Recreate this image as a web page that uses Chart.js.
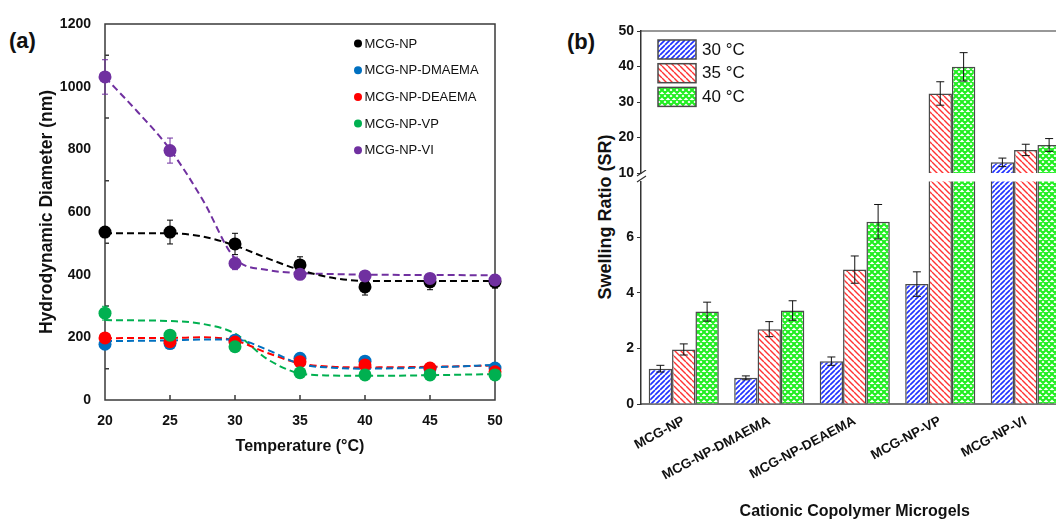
<!DOCTYPE html>
<html>
<head>
<meta charset="utf-8">
<title>Microgels</title>
<script src="https://cdn.jsdelivr.net/npm/chart.js"></script>
<style>
    html, body { margin: 0; padding: 0; background: #fff; overflow: hidden; }
    body { width: 1056px; height: 520px; position: relative; font-family: "Liberation Sans", Arial, sans-serif; color: #111; }
    canvas { position: absolute; }
    #chartA { left: 0; top: 0; }
    #chartB1 { left: 560px; top: 0; }
    #chartB2 { left: 560px; top: 170px; }
    .tag { position: absolute; font-weight: bold; font-size: 22px; line-height: 26px; }
    .ytitle { position: absolute; left: 505px; top: 207px; width: 200px; line-height: 20px; text-align: center;
              font-weight: bold; font-size: 18px; white-space: nowrap; transform: rotate(-90deg); }
</style>
</head>
<body>
    <div class="tag" style="left:9px; top:28px;">(a)</div>
    <div class="tag" style="left:567px; top:29px;">(b)</div>
    <div class="ytitle">Swelling Ratio (SR)</div>
    <canvas id="chartA" width="560" height="520"></canvas>
    <canvas id="chartB1" width="520" height="190"></canvas>
    <canvas id="chartB2" width="520" height="350"></canvas>

<script>
// (a) diamètre hydrodynamique
const temps = [20, 25, 30, 35, 40, 45, 50];
const diamTicks = [0, 200, 400, 600, 800, 1000, 1200];
const seriesNames = ['MCG-NP', 'MCG-NP-DMAEMA', 'MCG-NP-DEAEMA', 'MCG-NP-VP', 'MCG-NP-VI'];
const diamNP = [536, 536, 498, 431, 361, 377, 377];
const diamDMAEMA = [178, 180, 191, 133, 124, 100, 102];
const diamDEAEMA = [198, 186, 185, 122, 112, 102, 90];
const diamVP = [277, 207, 170, 87, 80, 80, 80];
const diamVI = [1031, 796, 436, 401, 396, 388, 383];
const errNP = [10, 38, 34, 26, 26, 25, 20];
const errDMAEMA = [8, 8, 8, 8, 8, 6, 6];
const errDEAEMA = [8, 8, 8, 8, 8, 6, 6];
const errVP = [22, 10, 10, 6, 6, 6, 6];
const errVI = [55, 40, 20, 10, 10, 10, 10];
// courbes d'ajustement
const fitTemps = [20, 22.5, 25, 27.5, 30, 32.5, 35, 37.5, 40, 45, 50];
const fitNP = [532, 532, 532, 522, 493, 452, 415, 390, 380, 380, 380];
const fitDMAEMA = [188, 189, 190, 193, 193, 160, 115, 103, 100, 104, 112];
const fitDEAEMA = [197, 198, 198, 200, 190, 150, 117, 106, 104, 106, 110];
const fitVP = [255, 254, 252, 243, 212, 130, 85, 78, 77, 79, 83];
const fitVI = [1030, 920, 800, 640, 452, 415, 405, 402, 400, 399, 398];

// (b) taux de gonflement
const microgels = ['MCG-NP', 'MCG-NP-DMAEMA', 'MCG-NP-DEAEMA', 'MCG-NP-VP', 'MCG-NP-VI'];
const tempLabels = ['30 °C', '35 °C', '40 °C'];
const sr30 = [1.27, 0.94, 1.54, 4.31, 13.0];
const sr35 = [1.96, 2.69, 4.83, 32.4, 16.5];
const sr40 = [3.32, 3.36, 6.55, 39.9, 17.9];
const srErr30 = [0.12, 0.07, 0.15, 0.44, 1.2];
const srErr35 = [0.2, 0.27, 0.49, 3.3, 1.6];
const srErr40 = [0.34, 0.35, 0.62, 4.0, 1.8];
const srUpperTicks = [10, 20, 30, 40, 50];
const srLowerTicks = [0, 2, 4, 6];

const FONT = '"Liberation Sans", Arial, sans-serif';
Chart.defaults.font.family = FONT;
Chart.defaults.color = '#111';

const colors = ['#000000', '#0070c0', '#ff0000', '#00b050', '#7030a0'];
const diams = [diamNP, diamDMAEMA, diamDEAEMA, diamVP, diamVI];
const errs = [errNP, errDMAEMA, errDEAEMA, errVP, errVI];
const fits = [fitNP, fitDMAEMA, fitDEAEMA, fitVP, fitVI];

// barres d'erreur, via les échelles
function drawErrors(chart, cap, useColor) {
    const {ctx, chartArea: a} = chart;
    ctx.save();
    ctx.beginPath();
    ctx.rect(a.left - 10, a.top, a.right - a.left + 20, a.bottom - a.top);
    ctx.clip();
    chart.data.datasets.forEach((ds, i) => {
        if (!ds.errors) return;
        const meta = chart.getDatasetMeta(i);
        const ys = chart.scales[meta.yAxisID];
        meta.data.forEach((el, j) => {
            const raw = ds.data[j];
            const v = raw !== null && typeof raw === 'object' ? raw.y : raw;
            if (v === null || v === undefined) return;
            const e = ds.errors[j];
            const y1 = ys.getPixelForValue(v + e), y2 = ys.getPixelForValue(v - e);
            ctx.strokeStyle = useColor ? ds.borderColor : '#111';
            ctx.lineWidth = 1;
            ctx.beginPath();
            ctx.moveTo(el.x, y1); ctx.lineTo(el.x, y2);
            ctx.moveTo(el.x - cap, y1); ctx.lineTo(el.x + cap, y1);
            ctx.moveTo(el.x - cap, y2); ctx.lineTo(el.x + cap, y2);
            ctx.stroke();
        });
    });
    ctx.restore();
}

// ---------- Panneau (a) ----------
const frameA = {
    id: 'frameA',
    beforeDatasetsDraw(chart) {
        const {ctx, chartArea: a, scales} = chart;
        ctx.save();
        ctx.strokeStyle = '#3a3a3a';
        ctx.lineWidth = 1.5;
        ctx.strokeRect(a.left, a.top, a.right - a.left, a.bottom - a.top);
        ctx.beginPath();
        temps.slice(1, -1).forEach(t => {
            const x = scales.x.getPixelForValue(t);
            ctx.moveTo(x, a.bottom); ctx.lineTo(x, a.bottom - 5);
        });
        [100, 300, 500, 700, 900, 1100].forEach(v => {
            const y = scales.y.getPixelForValue(v);
            ctx.moveTo(a.left, y); ctx.lineTo(a.left + 4, y);
        });
        ctx.stroke();
        ctx.restore();
        drawErrors(chart, 3, true);
    }
};

const legendA = {
    id: 'legendA',
    afterDraw(chart) {
        const {ctx, chartArea: a} = chart;
        ctx.save();
        ctx.font = '13px ' + FONT;
        ctx.textBaseline = 'middle';
        chart.data.datasets.filter(d => !d.fit).forEach((d, i) => {
            const x = a.right - 137, y = a.top + 19.5 + i * 26.7;
            ctx.fillStyle = d.backgroundColor;
            ctx.beginPath(); ctx.arc(x, y, 4, 0, Math.PI * 2); ctx.fill();
            ctx.fillStyle = '#111';
            ctx.fillText(d.label, x + 6.5, y + 0.5);
        });
        ctx.restore();
    }
};

const pointSets = seriesNames.map((name, k) => ({
    label: name,
    data: temps.map((t, i) => ({x: t, y: diams[k][i]})),
    errors: errs[k],
    backgroundColor: colors[k],
    borderColor: colors[k],
    borderWidth: 0,
    pointRadius: 6.5,
    showLine: false,
    clip: false,
    order: 4 - k
}));
const fitSets = seriesNames.map((name, k) => ({
    label: name + ' fit',
    fit: true,
    data: fitTemps.map((t, i) => ({x: t, y: fits[k][i]})),
    borderColor: colors[k],
    borderWidth: 2,
    borderDash: [7, 4],
    pointRadius: 0,
    showLine: true,
    cubicInterpolationMode: 'monotone',
    order: 10
}));

new Chart(document.getElementById('chartA'), {
    type: 'scatter',
    data: { datasets: pointSets.concat(fitSets) },
    options: {
        responsive: false,
        animation: false,
        layout: { padding: { left: 0, top: 24, right: 65, bottom: 50 } },
        plugins: { legend: { display: false }, tooltip: { enabled: false } },
        scales: {
            x: {
                type: 'linear', min: 20, max: 50,
                afterBuildTicks: s => { s.ticks = temps.map(v => ({value: v})); },
                afterFit: s => { s.height = 70; },
                grid: { display: false, drawTicks: false },
                border: { display: false },
                ticks: { font: { size: 14, weight: 'bold' }, padding: 13, callback: v => String(v) },
                title: { display: true, text: 'Temperature (°C)', font: { size: 16, weight: 'bold' }, padding: { top: 0, bottom: 14 } }
            },
            y: {
                min: 0, max: 1200,
                afterBuildTicks: s => { s.ticks = diamTicks.map(v => ({value: v})); },
                afterFit: s => { s.width = 105; },
                grid: { display: false, drawTicks: false },
                border: { display: false },
                ticks: { font: { size: 14, weight: 'bold' }, padding: 14, callback: v => String(v) },
                title: { display: true, text: 'Hydrodynamic Diameter (nm)', font: { size: 17.5, weight: 'bold' }, padding: { top: 37, bottom: 0 } }
            }
        }
    },
    plugins: [frameA, legendA]
});

// ---------- Panneau (b) ----------
function hatch(color, size, lw, dirs) {
    const c = document.createElement('canvas');
    c.width = c.height = size;
    const g = c.getContext('2d');
    g.fillStyle = '#fff';
    g.fillRect(0, 0, size, size);
    g.strokeStyle = color;
    g.lineWidth = lw;
    g.beginPath();
    for (let k = -1; k <= 1; k++) {
        if (dirs.includes('/')) { g.moveTo(k * size, size); g.lineTo(k * size + size, 0); }
        if (dirs.includes('\\')) { g.moveTo(k * size, 0); g.lineTo(k * size + size, size); }
    }
    g.stroke();
    return g.createPattern(c, 'repeat');
}
const patterns = [
    hatch('#2233ff', 5, 1.7, '/'),
    hatch('#ff3333', 6, 1.4, '\\'),
    hatch('#22ee22', 6, 2.1, '/\\')
];
const srVals = [sr30, sr35, sr40];
const srErrs = [srErr30, srErr35, srErr40];

function barSets(upper) {
    return tempLabels.map((lab, k) => ({
        label: lab,
        data: upper ? srVals[k].map(v => v >= 10 ? v : null) : srVals[k],
        errors: srErrs[k],
        backgroundColor: patterns[k],
        borderColor: '#4a4a4a',
        borderWidth: 1.5,
        clip: 0
    }));
}

const errB = { id: 'errB', afterDatasetsDraw(chart) { drawErrors(chart, 4, false); } };

const legendB = {
    id: 'legendB',
    afterDraw(chart) {
        const {ctx, chartArea: a} = chart;
        ctx.save();
        ctx.font = '17px ' + FONT;
        ctx.textBaseline = 'middle';
        chart.data.datasets.forEach((d, i) => {
            const x = a.left + 17, y = a.top + 9 + i * 23.7;
            ctx.fillStyle = d.backgroundColor;
            ctx.fillRect(x, y, 38, 19);
            ctx.strokeStyle = '#4a4a4a';
            ctx.lineWidth = 1.5;
            ctx.strokeRect(x, y, 38, 19);
            ctx.fillStyle = '#111';
            ctx.fillText(d.label, x + 44, y + 10);
        });
        ctx.restore();
    }
};

const topLine = {
    id: 'topLine',
    afterDraw(chart) {
        const {ctx, chartArea: a} = chart;
        ctx.save();
        ctx.strokeStyle = '#333';
        ctx.lineWidth = 1.2;
        ctx.beginPath(); ctx.moveTo(a.left, a.top); ctx.lineTo(a.right, a.top); ctx.stroke();
        ctx.restore();
    }
};

const breakMarks = {
    id: 'breakMarks',
    afterDraw(chart) {
        const {ctx, chartArea: a} = chart;
        ctx.save();
        ctx.strokeStyle = '#333';
        ctx.lineWidth = 1.2;
        ctx.beginPath();
        ctx.moveTo(a.left - 4, 6); ctx.lineTo(a.left + 5, 0);
        ctx.moveTo(a.left - 4, 12); ctx.lineTo(a.left + 5, 6);
        ctx.stroke();
        ctx.restore();
    }
};

function yAxisB(min, max, tickList) {
    return {
        min: min, max: max,
        afterBuildTicks: s => { s.ticks = tickList.map(v => ({value: v})); },
        afterFit: s => { s.width = 81; },
        grid: { drawOnChartArea: false, tickLength: 4, color: '#333' },
        border: { color: '#333', width: 1.5 },
        ticks: { font: { size: 14, weight: 'bold' }, padding: 3 }
    };
}

new Chart(document.getElementById('chartB1'), {
    type: 'bar',
    data: { labels: microgels, datasets: barSets(true) },
    options: {
        responsive: false,
        animation: false,
        layout: { padding: { left: 0, top: 31, right: 11.5, bottom: 17 } },
        datasets: { bar: { categoryPercentage: 0.82, barPercentage: 1 } },
        plugins: { legend: { display: false }, tooltip: { enabled: false } },
        scales: {
            x: { display: false },
            y: yAxisB(10, 50, srUpperTicks)
        }
    },
    plugins: [errB, legendB, topLine]
});

new Chart(document.getElementById('chartB2'), {
    type: 'bar',
    data: { labels: microgels, datasets: barSets(false) },
    options: {
        responsive: false,
        animation: false,
        layout: { padding: { left: 0, top: 10, right: 11.5, bottom: 0 } },
        datasets: { bar: { categoryPercentage: 0.82, barPercentage: 1 } },
        plugins: { legend: { display: false }, tooltip: { enabled: false } },
        scales: {
            x: {
                afterFit: s => { s.height = 116; },
                grid: { display: false, drawTicks: false },
                border: { color: '#777', width: 2 },
                ticks: { autoSkip: false, minRotation: 28, maxRotation: 28, font: { size: 13.5, weight: 'bold' }, padding: 9 },
                title: { display: true, text: 'Cationic Copolymer Microgels', font: { size: 16, weight: 'bold', lineHeight: 1 }, padding: { top: 0, bottom: 0 } }
            },
            y: yAxisB(0, 8, srLowerTicks)
        }
    },
    plugins: [errB, breakMarks]
});
</script>
</body>
</html>
